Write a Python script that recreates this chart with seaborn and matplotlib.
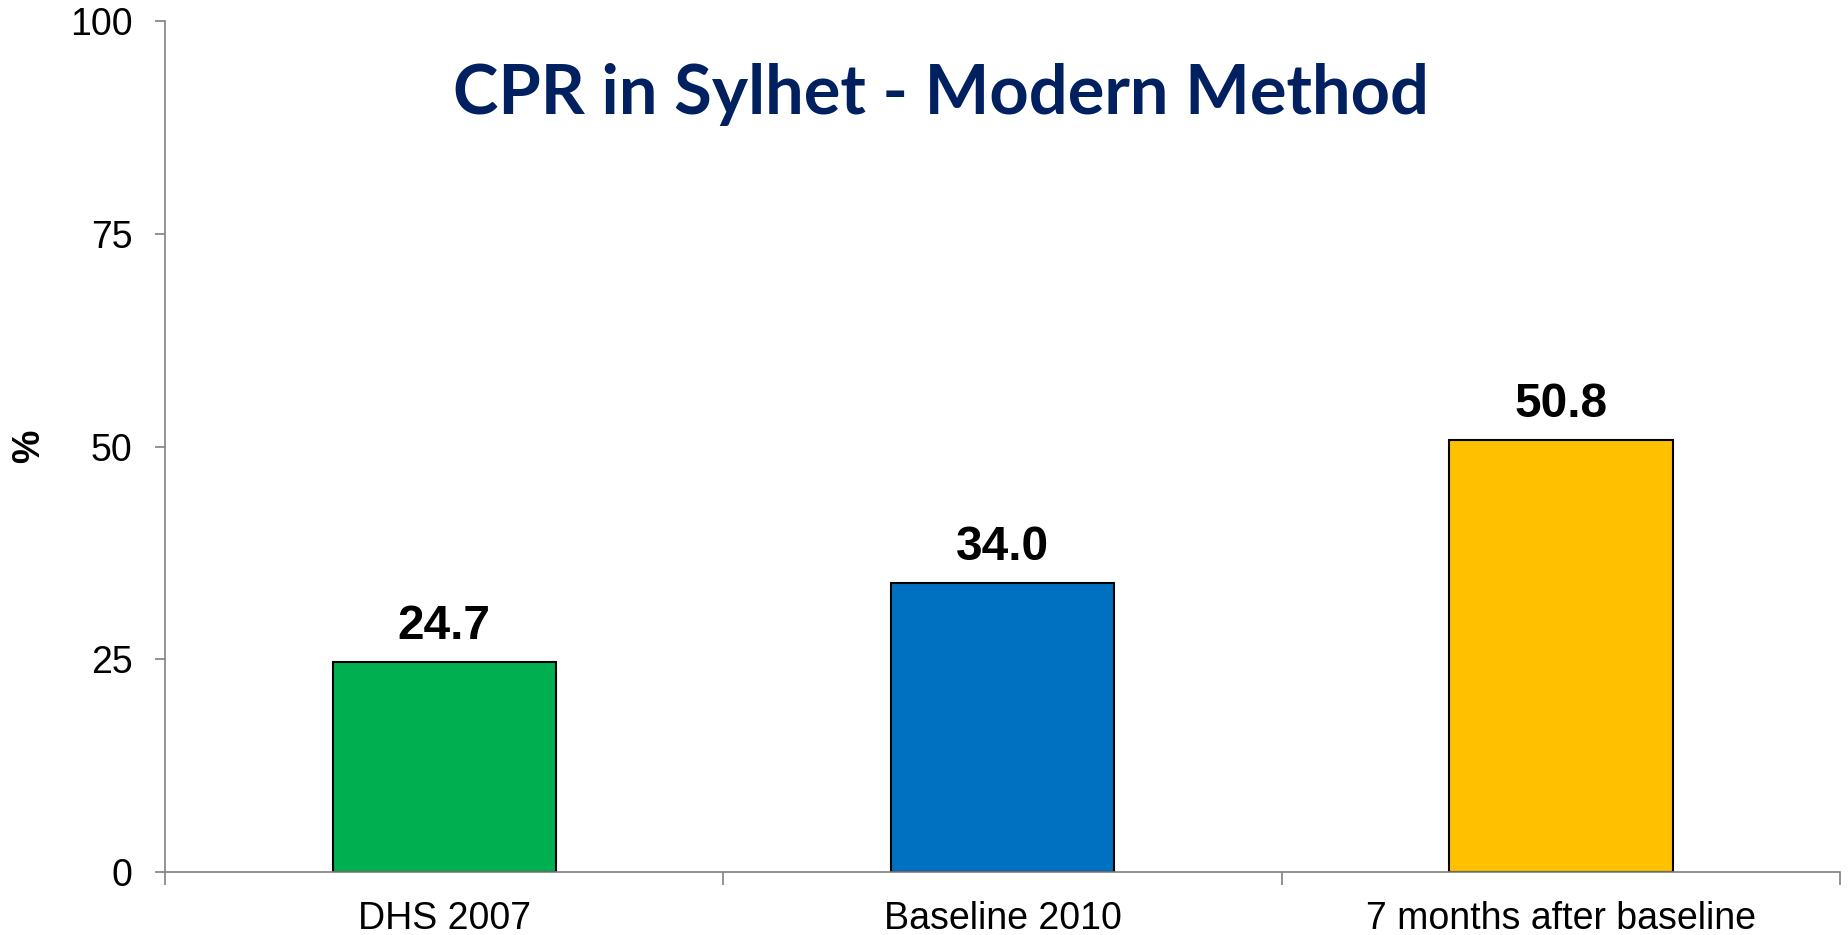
import matplotlib
matplotlib.use('Agg')
import matplotlib.pyplot as plt
import seaborn as sns

# 데이터
categories = ['DHS 2007', 'Baseline 2010', '7 months after baseline']
values = [24.7, 34.0, 50.8]
bar_colors = ['#00B050', '#0070C0', '#FFC000']
y_ticks = [0, 25, 50, 75, 100]

sns.set_style('white')
plt.rcParams['font.family'] = ['Liberation Sans', 'DejaVu Sans']
plt.rcParams['text.color'] = 'black'
plt.rcParams['xtick.color'] = 'black'
plt.rcParams['ytick.color'] = 'black'
plt.rcParams['axes.labelcolor'] = 'black'

fig = plt.figure(figsize=(18.48, 9.35), dpi=100)
ax = fig.add_axes([0.0893, 0.0674, 0.9064, 0.9101])

sns.barplot(x=categories, y=values, hue=categories, palette=bar_colors,
            legend=False, width=0.4, edgecolor='black', linewidth=1.5,
            saturation=1, ax=ax)

ax.set_xlim(-0.5, 2.5)
ax.set_ylim(0, 100)
ax.set_yticks(y_ticks)
ax.set_xlabel('')
ax.set_ylabel('%', fontsize=27, fontweight='bold')
ax.yaxis.label.set_verticalalignment('center')
ax.yaxis.set_label_coords(-0.0812, 0.5)

# 막대 위 값 표시
for i, v in enumerate(values):
    ax.annotate(f'{v:.1f}', (i, v), xytext=(0, 9), textcoords='offset points',
                ha='center', va='bottom', fontsize=34.5, fontweight='bold')

sns.despine(ax=ax)
for s in ['left', 'bottom']:
    ax.spines[s].set_color('#808080')
    ax.spines[s].set_linewidth(1.2)

ax.tick_params(axis='y', which='major', labelsize=27, length=7.5, width=1.2,
               color='#808080', pad=16, left=True)
ax.tick_params(axis='x', which='major', labelsize=27, length=0, pad=21)
ax.set_xticks([-0.5, 0.5, 1.5, 2.5], minor=True)
ax.tick_params(axis='x', which='minor', length=9, width=1.2, color='#808080',
               bottom=True)

fig.text(0.509, 0.878, 'CPR in Sylhet - Modern Method', ha='center',
         va='baseline', fontsize=49.4, fontweight='bold', color='#002060',
         family=['Lato', 'DejaVu Sans'])

fig.savefig('out.png', dpi=100)
